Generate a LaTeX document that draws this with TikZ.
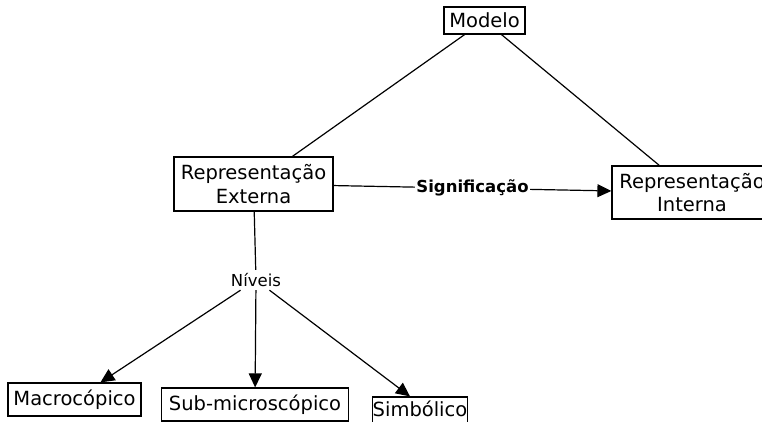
\documentclass[tikz,border=0pt]{standalone}
\usepackage{fontspec}
\setmainfont{DejaVu Sans}
\usetikzlibrary{arrows.meta,calc}
\begin{document}
\begin{tikzpicture}[x=1pt,y=-1pt,
  box/.style={draw,line width=1.2pt,inner sep=0pt,align=center,font=\fontsize{19.5}{23.5}\selectfont},
  lbl/.style={inner sep=0pt,font=\fontsize{16.5}{19}\selectfont},
  conn/.style={line width=1.2pt},
  arr/.style={line width=1.2pt,-{Triangle[length=14pt,width=13pt]}}]
\useasboundingbox (0,0) rectangle (762,421);
\clip (0,0) rectangle (762,421);
\fill[white] (0,0) rectangle (762,421);
\node[box,minimum width=81pt,minimum height=27pt] (modelo) at (484.5,20.5) {Modelo};
\node[box,minimum width=159pt,minimum height=54pt] (ext) at (253.5,184) {Representação\\Externa};
\node[box,minimum width=160pt,minimum height=53pt] (int) at (692,192.5) {Representação\\Interna};
\node[lbl,minimum width=52pt,minimum height=20pt] (niveis) at (256,280) {Níveis};
\node[box,minimum width=133pt,minimum height=33pt] (macro) at (74.5,399.5) {Macrocópico};
\node[box,minimum width=187pt,minimum height=33pt] (sub) at (255,404.5) {Sub-microscópico};
\node[box,minimum width=80pt,text height=19pt,text depth=14pt] (simb) at (420,413.5) {Simbólico};
\draw[conn] (modelo) -- (ext);
\draw[conn] (modelo) -- (int);
\draw[arr] (ext) -- node[lbl,fill=white,inner sep=1pt,font=\fontsize{16.5}{19}\selectfont\bfseries] (sig) {Significação} (int);
\draw[conn] (ext) -- (niveis);
\draw[arr] (niveis) -- (macro);
\draw[arr] (niveis) -- (sub);
\draw[arr] (niveis) -- ($(simb.north)+(-10,0)$);
\end{tikzpicture}
\end{document}
